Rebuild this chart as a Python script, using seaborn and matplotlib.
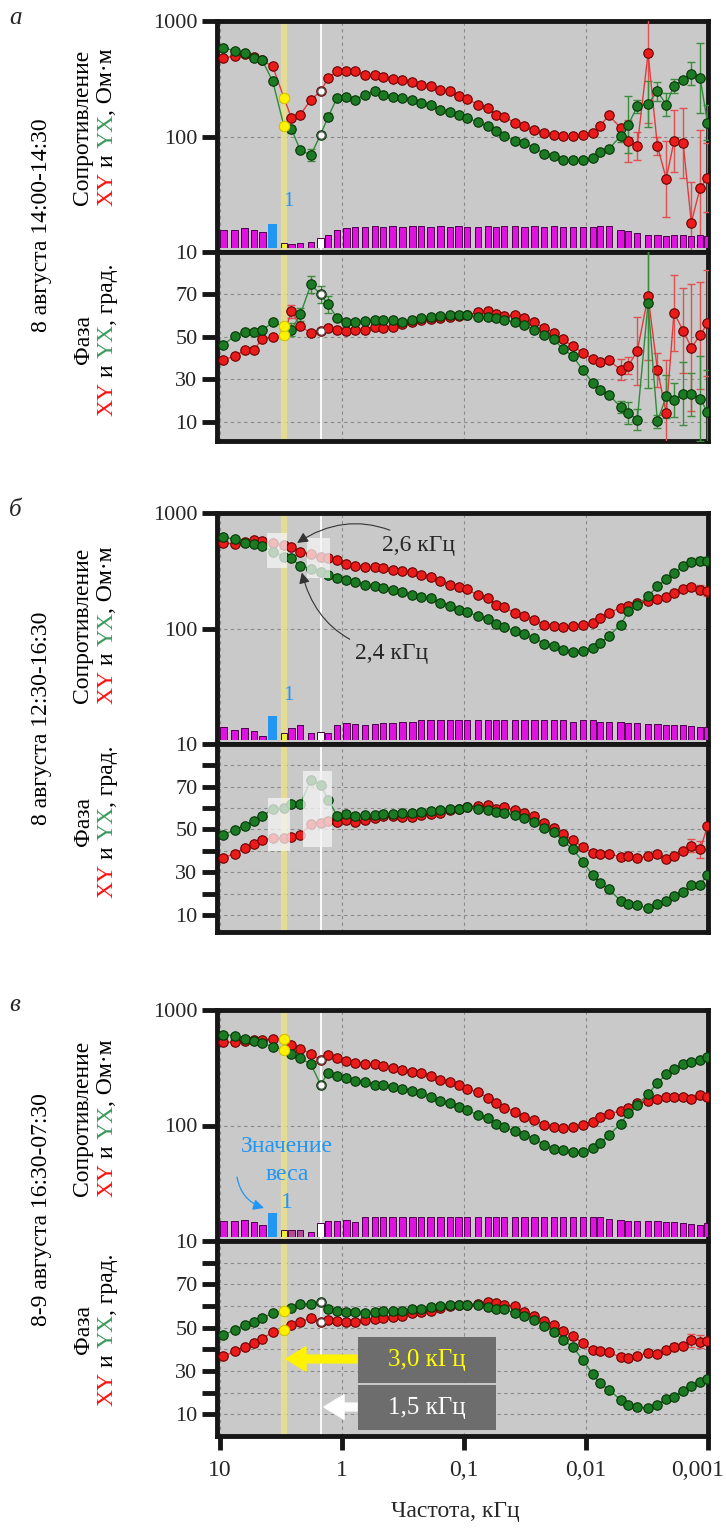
import numpy as np
import pandas as pd
import matplotlib
matplotlib.use("Agg")
import matplotlib.pyplot as plt
from matplotlib.patches import Rectangle
from matplotlib.ticker import FixedLocator, NullLocator
import seaborn as sns

# ---------------- data ----------------
FREQ = [9.4, 7.6, 6.3, 5.3, 4.5, 3.7, 3.0, 2.6, 2.2, 1.8, 1.5, 1.3, 1.1,
        0.92, 0.78, 0.65, 0.54, 0.46, 0.385, 0.32, 0.265, 0.225, 0.188, 0.156, 0.13,
        0.111, 0.094, 0.077, 0.064, 0.055, 0.047, 0.038, 0.032, 0.0265, 0.022, 0.0183,
        0.0155, 0.0128, 0.0106, 0.0088, 0.0077, 0.0065, 0.0052, 0.0045, 0.0038, 0.0031,
        0.0026, 0.0022, 0.0019, 0.0016, 0.00137, 0.00116, 0.00101]

XTICK_VALUES = [10, 1, 0.1, 0.01, 0.001]
XTICK_LABELS = ["10", "1", "0,1", "0,01", "0,001"]
RHO_TICKS = [10, 100, 1000]
RHO_TICK_LABELS = ["10", "100", "1000"]

# panel а
RHO_A_XY = [477, 499, 515, 485, 455, 404, 217, 145, 155, 208,
            246, 321, 366, 366, 366, 342, 342, 327, 316, 310,
            294, 281, 275, 254, 246, 222, 211, 189, 177, 155,
            148, 131, 123, 113, 108, 104, 101, 102, 104, 108,
            123, 152, 119, 91, 83, 525, 83, 43, 91, 88,
            18, 36, 44]
RHO_A_YX = [582, 555, 527, 477, 455, 300, 124, 116, 76, 69,
            104, 148, 216, 218, 208, 230, 246, 230, 220, 216,
            206, 195, 189, 171, 162, 152, 145, 133, 123, 111,
            102, 91, 87, 80, 71, 68, 63, 62, 62, 65,
            73, 78, 101, 127, 182, 192, 246, 189, 275, 310,
            349, 321, 132]
PHA_A_XY = [39.3, 40.9, 43.7, 43.9, 49.1, 50.0, 51.0, 62.1, 55.0, 51.9,
            53.0, 54.0, 53.5, 52.7, 53.5, 53.5, 54.8, 54.3, 54.8, 56.0,
            57.0, 58.0, 58.5, 59.0, 59.5, 59.8, 60.2, 61.7, 62.1, 60.6,
            60.0, 60.1, 59.0, 56.9, 54.3, 51.9, 48.8, 45.6, 42.5, 39.7,
            38.1, 39.0, 34.6, 36.5, 43.3, 69.2, 34.6, 14.2, 61.4, 53.0,
            45.0, 50.7, 56.6]
PHA_A_YX = [46.4, 50.3, 52.2, 52.2, 53.2, 56.9, 55.0, 53.5, 60.6, 74.7,
            70.0, 65.3, 59.0, 56.9, 56.9, 57.4, 57.9, 57.9, 57.9, 56.9,
            58.0, 59.0, 59.4, 59.8, 60.4, 60.4, 60.4, 59.5, 59.5, 59.0,
            58.0, 56.9, 55.4, 53.5, 51.1, 48.8, 44.4, 40.9, 34.3, 28.3,
            25.2, 22.8, 17.0, 14.2, 11.0, 66.0, 10.2, 22.0, 20.5, 23.3,
            23.0, 21.0, 14.5]
WEIGHT_A = [0.85, 0.85, 0.9, 0.85, 0.75, 1.1, 0.25, 0.2, 0.22, 0.28,
            0.45, 0.6, 0.85, 0.9, 0.95, 0.95, 1.0, 0.95, 1.0, 0.95,
            1.0, 1.0, 0.95, 1.0, 0.95, 1.0, 0.95, 0.95, 1.0, 0.95,
            1.0, 1.0, 0.95, 1.0, 0.95, 1.0, 0.95, 0.95, 0.95, 0.95,
            1.0, 1.0, 0.85, 0.8, 0.7, 0.6, 0.6, 0.55, 0.6, 0.6,
            0.55, 0.6, 0.55]
# error bars (index, half-width): rho in decades, phase in degrees
RHO_A_XY_ERR_IDX = [43, 44, 45, 46, 47, 48, 49, 50, 51, 52]
RHO_A_XY_ERR = [0.18, 0.12, 0.6, 0.08, 0.33, 0.27, 0.3, 0.35, 0.5, 0.3]
RHO_A_YX_ERR_IDX = [7, 9, 11, 42, 43, 44, 45, 46, 47, 48, 50, 51, 52]
RHO_A_YX_ERR = [0.03, 0.05, 0.03, 0.05, 0.25, 0.06, 0.2, 0.08, 0.1, 0.06, 0.1, 0.3, 0.15]
PHA_A_XY_ERR_IDX = [7, 42, 43, 44, 45, 46, 47, 48, 49, 50, 51, 52]
PHA_A_XY_ERR = [3, 5, 4, 16, 30, 8, 25, 18, 20, 30, 25, 25]
PHA_A_YX_ERR_IDX = [7, 8, 9, 10, 11, 42, 43, 44, 45, 46, 47, 48, 49, 50, 51, 52]
PHA_A_YX_ERR = [3, 3, 4, 4, 4, 3, 5, 5, 40, 3, 10, 8, 15, 10, 20, 20]

# panel б
RHO_B_XY = [548, 541, 566, 585, 577, 550, 530, 509, 463, 440,
            420, 405, 393, 363, 349, 340, 340, 334, 323, 312,
            306, 292, 279, 256, 239, 229, 218, 194, 184, 161,
            152, 137, 129, 118, 108, 106, 103.5, 104.5, 108, 112,
            124, 137, 151, 156, 167, 172, 180, 188, 203, 220,
            229, 217, 210]
RHO_B_YX = [617, 593, 555, 537, 520, 463, 420, 406, 349, 330,
            310, 290, 274, 261, 251, 239, 232, 224, 217, 206,
            196, 188, 184, 167, 156, 146, 139, 128, 121, 109,
            103, 95, 89, 83, 74, 70.5, 65, 62.5, 64, 68,
            75, 86, 108, 141, 161, 190, 232, 268, 302, 349,
            380, 385, 385]
PHA_B_XY = [36.8, 38.6, 41.5, 43.1, 45.1, 46.0, 46.0, 46.6, 47.5, 52.6,
            53.0, 54.0, 53.4, 54.2, 53.4, 54.6, 55.2, 56.1, 56.1, 55.7,
            55.7, 56.6, 57.4, 57.6, 58.9, 59.7, 60.5, 60.9, 61.3, 59.7,
            60.5, 58.9, 57.6, 56.1, 52.8, 50.7, 47.8, 45.0, 41.8, 39.2,
            38.4, 38.6, 37.2, 37.6, 36.5, 37.6, 38.4, 36.0, 37.6, 39.7,
            42.3, 40.7, 51.4]
PHA_B_YX = [47.5, 49.8, 51.8, 53.9, 56.1, 59.7, 60.0, 61.8, 62.1, 73.0,
            70.8, 64.0, 56.5, 57.0, 56.1, 56.6, 56.6, 57.0, 57.0, 57.6,
            57.6, 58.1, 58.6, 58.9, 59.7, 59.7, 60.5, 59.7, 59.2, 58.1,
            57.6, 56.8, 55.5, 53.4, 50.7, 48.6, 44.7, 40.7, 34.9, 28.5,
            24.9, 22.2, 16.5, 14.9, 14.6, 13.0, 14.9, 16.5, 19.0, 20.9,
            23.8, 24.1, 28.8]
WEIGHT_B = [0.6, 0.45, 0.55, 0.4, 0.2, 1.1, 0.3, 0.55, 0.7, 0.3,
            0.35, 0.3, 0.7, 0.8, 0.75, 0.7, 0.75, 0.8, 0.8, 0.85,
            0.85, 0.9, 0.9, 0.9, 0.92, 0.9, 0.92, 0.9, 0.92, 0.9,
            0.9, 0.92, 0.9, 0.92, 0.9, 0.9, 0.92, 0.85, 0.9, 0.9,
            0.85, 0.85, 0.85, 0.8, 0.8, 0.75, 0.75, 0.7, 0.7, 0.7,
            0.65, 0.6, 0.6]
RHO_B_XY_ERR_IDX = [51, 52]
RHO_B_XY_ERR = [0.04, 0.04]
RHO_B_YX_ERR_IDX = [50, 51, 52]
RHO_B_YX_ERR = [0.03, 0.03, 0.03]
PHA_B_XY_ERR_IDX = [50, 51]
PHA_B_XY_ERR = [3, 4]
PHA_B_YX_ERR_IDX = []
PHA_B_YX_ERR = []

# panel в
RHO_C_XY = [525, 528, 540, 548, 552, 560, 562, 500, 458, 420,
            367, 409, 383, 362, 351, 339, 342, 328, 316, 300,
            292, 286, 267, 250, 239, 223, 208, 195, 173, 156,
            143, 132, 119, 111, 102, 97, 95, 97, 102, 108,
            119, 127, 133, 143, 156, 163, 170, 178, 178, 178,
            170, 182, 178]
RHO_C_YX = [610, 601, 562, 543, 514, 481, 450, 415, 383, 339,
            226, 286, 267, 258, 245, 239, 226, 223, 214, 208,
            198, 191, 178, 163, 156, 146, 136, 123, 115, 104,
            97, 89, 82, 77, 68, 63, 61, 59, 59, 64,
            71, 82, 104, 128, 151, 187, 234, 277, 306, 339,
            357, 367, 388]
PHA_C_XY = [36.7, 39.1, 41.1, 43.0, 44.9, 48.1, 49.0, 51.2, 52.7, 54.3,
            52.4, 53.7, 53.2, 52.7, 52.7, 53.7, 54.0, 54.3, 54.8, 55.2,
            56.8, 57.1, 57.9, 59.0, 60.0, 60.6, 60.6, 61.0, 61.9, 61.5,
            60.3, 60.0, 57.1, 55.6, 53.2, 51.2, 48.5, 46.2, 42.7, 39.5,
            39.1, 38.6, 36.4, 35.9, 37.0, 38.3, 38.0, 39.9, 41.1, 41.7,
            44.3, 43.4, 43.8]
PHA_C_YX = [46.5, 49.0, 51.2, 52.4, 54.3, 56.8, 57.9, 59.0, 60.9, 60.9,
            61.9, 58.4, 57.9, 57.1, 57.1, 56.8, 57.1, 57.5, 57.5, 57.9,
            58.4, 58.8, 59.5, 60.0, 60.3, 60.6, 60.6, 60.3, 59.5, 58.8,
            58.4, 56.8, 55.6, 53.7, 50.9, 48.1, 44.3, 41.1, 34.9, 28.6,
            24.5, 21.3, 16.7, 14.4, 13.5, 12.9, 14.4, 17.1, 18.2, 21.0,
            22.9, 25.0, 26.1]
WEIGHT_C = [0.75, 0.75, 0.8, 0.7, 0.55, 1.1, 0.3, 0.3, 0.3, 0.25,
            0.65, 0.75, 0.75, 0.8, 0.7, 0.9, 0.9, 0.9, 0.9, 0.92,
            0.92, 0.92, 0.92, 0.92, 0.92, 0.92, 0.92, 0.92, 0.92, 0.92,
            0.92, 0.92, 0.92, 0.92, 0.92, 0.92, 0.92, 0.92, 0.92, 0.92,
            0.92, 0.85, 0.8, 0.75, 0.75, 0.75, 0.75, 0.7, 0.7, 0.65,
            0.6, 0.55, 0.65]
RHO_C_XY_ERR_IDX = [50, 51, 52]
RHO_C_XY_ERR = [0.03, 0.03, 0.03]
RHO_C_YX_ERR_IDX = []
RHO_C_YX_ERR = []
PHA_C_XY_ERR_IDX = [48, 50, 51]
PHA_C_XY_ERR = [2, 3, 3]
PHA_C_YX_ERR_IDX = []
PHA_C_YX_ERR = []

YELLOW_IDX = 6     # 3,0 kHz
WHITE_IDX = 10     # 1,5 kHz
WEIGHT_MARK_IDX = 5
FADED_B_IDX = [5, 6, 9, 10, 11]
MAUVE_C_IDX = [7, 8]

for arr in [RHO_A_XY, RHO_A_YX, PHA_A_XY, PHA_A_YX, WEIGHT_A, RHO_B_XY, RHO_B_YX,
            PHA_B_XY, PHA_B_YX, WEIGHT_B, RHO_C_XY, RHO_C_YX, PHA_C_XY, PHA_C_YX, WEIGHT_C]:
    assert len(arr) == len(FREQ), len(arr)

# ---------------- style ----------------
sns.set_theme(style="white")
plt.rcParams["font.family"] = ["Liberation Serif", "DejaVu Serif"]
plt.rcParams["axes.unicode_minus"] = False

W, H = 726, 1530
fig = plt.figure(figsize=(W / 100, H / 100), dpi=100)
R = fig.canvas.get_renderer()

X_L, X_R = 217, 708
XLIM = (10.6, 0.001)
BG = "#C9C9C9"
RED, RED_E, RED_L = "#EA1B1B", "#6A0000", "#E23A3A"
GRN, GRN_E, GRN_L = "#1B7A23", "#053505", "#2E8B3A"
RED_T = "#FF1010"
GRN_T = "#3A9A5E"
BLUE = "#2196F3"
FRAME = "#161616"
MAGENTA = "#E012E0"
FS = 17


def fx(x):
    return x / W


def fy(y):
    return 1 - y / H


def add_ax(top, bottom):
    return fig.add_axes([fx(X_L), fy(bottom), (X_R - X_L) / W, (bottom - top) / H])


def style_ax(ax):
    ax.set_facecolor(BG)
    ax.set_xscale("log")
    ax.set_xlim(*XLIM)
    for s in ax.spines.values():
        s.set_visible(True)
        s.set_linewidth(3.5)
        s.set_color(FRAME)
    ax.xaxis.set_major_locator(FixedLocator(XTICK_VALUES))
    ax.xaxis.set_minor_locator(NullLocator())
    ax.tick_params(axis="x", bottom=False, labelbottom=False, length=0)
    ax.tick_params(axis="y", left=True, direction="out", length=11, width=3.5,
                   color=FRAME, labelsize=16, pad=3)
    ax.grid(True, color="#8A8A8A", ls=(0, (3, 3)), lw=0.8)
    ax.set_axisbelow(True)
    ax.set_xlabel("")
    ax.set_ylabel("")


def draw_errors(ax, vals, idx, err, color, log):
    if not idx:
        return
    f = np.array(FREQ)[idx]
    v = np.array(vals, dtype=float)[idx]
    e = np.array(err, dtype=float)
    if log:
        lo, hi = v - v / 10 ** e, v * 10 ** e - v
    else:
        lo, hi = e, e
    ax.errorbar(f, v, yerr=[lo, hi], fmt="none", ecolor=color, elinewidth=1.0,
                capsize=3, capthick=1.0, zorder=3)


def draw_series(ax, vals, face, edge, line, z):
    df = pd.DataFrame({"freq": FREQ, "val": vals})
    sns.lineplot(data=df, x="freq", y="val", ax=ax, color=line, lw=1.0,
                 marker="o", markersize=6.8, markerfacecolor=face,
                 markeredgecolor=edge, markeredgewidth=0.8,
                 sort=False, estimator=None, legend=False, zorder=z)


def highlight(ax, vals_list, idx, face, edge, size):
    for vals in vals_list:
        sns.scatterplot(x=[FREQ[idx]], y=[vals[idx]], ax=ax, color=face,
                        edgecolor=edge, linewidth=0.8, s=size, zorder=7, legend=False)


def draw_bars(ax, weights, extra_colors):
    bx = ax.inset_axes([0, 4 / 231, 1, 25 / 231])
    bx.set_xscale("log")
    bx.set_xlim(*XLIM)
    bx.set_ylim(0, 1.15)
    bx.axis("off")
    f = np.array(FREQ)
    w = np.array(weights)
    hw = 0.026
    left = f * 10 ** (-hw)
    width = f * 10 ** hw - left
    colors = [extra_colors.get(i, MAGENTA) for i in range(len(f))]
    bx.bar(left, w, width=width, align="edge", color=colors, edgecolor="#4A004A", lw=0.7)
    # weight marker (blue)
    i = WEIGHT_MARK_IDX
    hb = 0.036
    bx.bar([f[i] * 10 ** (-hb)], [w[i]], width=[f[i] * 10 ** hb - f[i] * 10 ** (-hb)],
           align="edge", color=BLUE, lw=0)
    return bx


def text_w(s, size):
    t = fig.text(0, 0, s, fontsize=size)
    w = t.get_window_extent(renderer=R).width
    t.remove()
    return w


def prefix_w(s, size):
    if s == "":
        return 0.0
    return text_w(s + "I", size) - text_w("I", size)


def vtext(xc, yc, parts, size=FS):
    full = "".join(p for p, _ in parts)
    total = prefix_w(full, size)
    start = (H - yc) - total / 2
    acc = ""
    for s, c in parts:
        if c is not None:
            off = prefix_w(acc, size)
            fig.text(fx(xc), (start + off) / H, s, rotation=90, color=c,
                     fontsize=size, ha="center", va="bottom")
        acc += s


PANELS = [
    dict(letter="а", title="8 августа 14:00-14:30", rt=21, rb=252, pb=441,
         plim=(1, 90), pticks=[10, 30, 50, 70], plabels=["10", "30", "50", "70"],
         rxy=RHO_A_XY, ryx=RHO_A_YX, pxy=PHA_A_XY, pyx=PHA_A_YX, w=WEIGHT_A,
         rxy_e=(RHO_A_XY_ERR_IDX, RHO_A_XY_ERR), ryx_e=(RHO_A_YX_ERR_IDX, RHO_A_YX_ERR),
         pxy_e=(PHA_A_XY_ERR_IDX, PHA_A_XY_ERR), pyx_e=(PHA_A_YX_ERR_IDX, PHA_A_YX_ERR),
         highlight=True, title_y=225, rlab_y=127, plab_y=340, letter_y=18),
    dict(letter="б", title="8 августа 12:30-16:30", rt=513, rb=744, pb=932,
         plim=(2, 90), pticks=list(range(10, 90, 10)),
         plabels=["10", "", "30", "", "50", "", "70", ""],
         rxy=RHO_B_XY, ryx=RHO_B_YX, pxy=PHA_B_XY, pyx=PHA_B_YX, w=WEIGHT_B,
         rxy_e=(RHO_B_XY_ERR_IDX, RHO_B_XY_ERR), ryx_e=(RHO_B_YX_ERR_IDX, RHO_B_YX_ERR),
         pxy_e=(PHA_B_XY_ERR_IDX, PHA_B_XY_ERR), pyx_e=(PHA_B_YX_ERR_IDX, PHA_B_YX_ERR),
         highlight=False, title_y=718, rlab_y=625, plab_y=822, letter_y=510),
    dict(letter="в", title="8-9 августа 16:30-07:30", rt=1010, rb=1241, pb=1436,
         plim=(0, 90), pticks=list(range(10, 90, 10)),
         plabels=["10", "", "30", "", "50", "", "70", ""],
         rxy=RHO_C_XY, ryx=RHO_C_YX, pxy=PHA_C_XY, pyx=PHA_C_YX, w=WEIGHT_C,
         rxy_e=(RHO_C_XY_ERR_IDX, RHO_C_XY_ERR), ryx_e=(RHO_C_YX_ERR_IDX, RHO_C_YX_ERR),
         pxy_e=(PHA_C_XY_ERR_IDX, PHA_C_XY_ERR), pyx_e=(PHA_C_YX_ERR_IDX, PHA_C_YX_ERR),
         highlight=True, title_y=1210, rlab_y=1118, plab_y=1330, letter_y=1005),
]

axes = []
for k, p in enumerate(PANELS):
    ax_r = add_ax(p["rt"], p["rb"])
    ax_p = add_ax(p["rb"], p["pb"])

    # resistivity
    draw_errors(ax_r, p["rxy"], *p["rxy_e"], color="#E25050", log=True)
    draw_errors(ax_r, p["ryx"], *p["ryx_e"], color="#3C8C3C", log=True)
    draw_series(ax_r, p["rxy"], RED, RED_E, RED_L, 4)
    draw_series(ax_r, p["ryx"], GRN, GRN_E, GRN_L, 5)
    # phase
    draw_errors(ax_p, p["pxy"], *p["pxy_e"], color="#E25050", log=False)
    draw_errors(ax_p, p["pyx"], *p["pyx_e"], color="#3C8C3C", log=False)
    draw_series(ax_p, p["pxy"], RED, RED_E, RED_L, 4)
    draw_series(ax_p, p["pyx"], GRN, GRN_E, GRN_L, 5)

    for ax in (ax_r, ax_p):
        style_ax(ax)
        ax.axvline(FREQ[YELLOW_IDX], color="#EAE08A", lw=4.5, alpha=0.85, zorder=1.2)
        ax.axvline(FREQ[WHITE_IDX], color="white", lw=1.3, zorder=1.3)

    ax_r.set_yscale("log")
    ax_r.set_ylim(10, 1000)
    ax_r.yaxis.set_major_locator(FixedLocator(RHO_TICKS))
    ax_r.yaxis.set_minor_locator(NullLocator())
    ax_r.set_yticklabels(RHO_TICK_LABELS)
    ax_p.set_ylim(*p["plim"])
    ax_p.yaxis.set_major_locator(FixedLocator(p["pticks"]))
    ax_p.set_yticklabels(p["plabels"])

    if p["highlight"]:
        highlight(ax_r, [p["rxy"], p["ryx"]], YELLOW_IDX, "#FFF200", "#D8C800", 55)
        highlight(ax_p, [p["pxy"], p["pyx"]], YELLOW_IDX, "#FFF200", "#D8C800", 55)
        highlight(ax_r, [p["rxy"], p["ryx"]], WHITE_IDX, "white", "#555555", 28)
        highlight(ax_p, [p["pxy"], p["pyx"]], WHITE_IDX, "white", "#555555", 28)

    extra = {YELLOW_IDX: "#F2EE30", WHITE_IDX: "white"}
    if k == 2:
        for i in MAUVE_C_IDX:
            extra[i] = "#B24A9A"
    draw_bars(ax_r, p["w"], extra)

    # labels
    fig.text(fx(15), fy(p["letter_y"]), p["letter"], fontsize=18, style="italic",
             ha="center", va="center")
    vtext(42, p["title_y"], [(p["title"], "black")])
    vtext(83, p["rlab_y"], [("Сопротивление", "black")])
    vtext(107, p["rlab_y"], [("XY", RED_T), (" ", None), ("и", "black"), (" ", None),
                             ("YX", GRN_T), (", Ом·м", "black")])
    vtext(83, p["plab_y"], [("Фаза", "black")])
    vtext(107, p["plab_y"], [("XY", RED_T), (" ", None), ("и", "black"), (" ", None),
                             ("YX", GRN_T), (", град.", "black")])
    axes.append((ax_r, ax_p))

# ---- panel б: faded (rejected) points and annotations ----
ax_r, ax_p = axes[1]
for (f0, f1, v0, v1) in [(4.14, 2.84, 336, 673), (1.95, 1.25, 275, 608)]:
    ax_r.add_patch(Rectangle((f1, v0), f0 - f1, v1 - v0, facecolor="#F4F4F4",
                             alpha=0.75, lw=0, zorder=8))
for (f0, f1, v0, v1) in [(4.06, 2.68, 39.9, 64.6), (2.09, 1.21, 41.7, 77.2)]:
    ax_p.add_patch(Rectangle((f1, v0), f0 - f1, v1 - v0, facecolor="#F4F4F4",
                             alpha=0.75, lw=0, zorder=8))
ax_r.annotate("2,6 кГц", xy=(FREQ[7], RHO_B_XY[7]), xytext=(418, H - 545),
              textcoords="figure pixels", ha="center", va="center", fontsize=FS,
              zorder=10,
              arrowprops=dict(arrowstyle="-|>", color="#333333", lw=0.8,
                              mutation_scale=16, shrinkA=2, shrinkB=5,
                              connectionstyle="arc3,rad=0.35"))
ax_r.annotate("2,4 кГц", xy=(FREQ[8], RHO_B_YX[8]), xytext=(392, H - 653),
              textcoords="figure pixels", ha="center", va="center", fontsize=FS,
              zorder=10,
              arrowprops=dict(arrowstyle="-|>", color="#333333", lw=0.8,
                              mutation_scale=16, shrinkA=2, shrinkB=5,
                              connectionstyle="arc3,rad=-0.35"))

# weight labels
fig.text(fx(288), fy(202), "1", color=BLUE, fontsize=15, ha="center", va="center")
fig.text(fx(288), fy(696), "1", color=BLUE, fontsize=15, ha="center", va="center")
fig.text(fx(287), fy(1146), "Значение", color=BLUE, fontsize=FS, ha="center", va="center")
fig.text(fx(287), fy(1175), "веса", color=BLUE, fontsize=FS, ha="center", va="center")
fig.text(fx(287), fy(1202), "1", color=BLUE, fontsize=FS, ha="center", va="center")
ax_rc, ax_pc = axes[2]
ax_rc.annotate("", xy=(264, H - 1208), xytext=(237, H - 1177),
               xycoords="figure pixels", textcoords="figure pixels",
               arrowprops=dict(arrowstyle="-|>", color=BLUE, lw=0.9, mutation_scale=16,
                               shrinkA=0, shrinkB=0, connectionstyle="arc3,rad=0.3"),
               annotation_clip=False)

# bottom axis ticks (last label shifted inward so it is not cut at the edge)
ax_pc.tick_params(axis="x", bottom=True, labelbottom=True, direction="out", length=10,
                  width=3.5, color=FRAME, labelsize=FS, pad=7)
ax_pc.set_xticklabels(XTICK_LABELS[:-1] + [""])
last_lbl = ax_pc.text(XTICK_VALUES[-1], 0, XTICK_LABELS[-1], fontsize=FS,
                      ha="right", va="top", transform=ax_pc.get_xaxis_transform(),
                      clip_on=False)
import matplotlib.transforms as mtransforms
last_lbl.set_transform(ax_pc.get_xaxis_transform()
                       + mtransforms.ScaledTranslation(16 / 100, -24 / 100, fig.dpi_scale_trans))
fig.text(fx(455), fy(1511), "Частота, кГц", fontsize=FS, ha="center", va="center")

# frequency callout box
fig.add_artist(Rectangle((fx(358), fy(1383)), 138 / W, 46 / H, transform=fig.transFigure,
                         facecolor="#6D6D6D", lw=0, zorder=20))
fig.add_artist(Rectangle((fx(358), fy(1430)), 138 / W, 45 / H, transform=fig.transFigure,
                         facecolor="#6D6D6D", lw=0, zorder=20))
fig.text(fx(427), fy(1360), "3,0 кГц", color="#FFFF00", fontsize=18, ha="center",
         va="center", zorder=21)
fig.text(fx(427), fy(1408), "1,5 кГц", color="white", fontsize=18, ha="center",
         va="center", zorder=21)
ax_pc.annotate("", xy=(286, H - 1359), xytext=(357, H - 1359),
               xycoords="figure pixels", textcoords="figure pixels",
               arrowprops=dict(arrowstyle="simple,head_length=0.9,head_width=1.1,tail_width=0.35",
                               color="#FFF200", mutation_scale=16, shrinkA=0, shrinkB=0),
               annotation_clip=False)
ax_pc.annotate("", xy=(324, H - 1407), xytext=(357, H - 1407),
               xycoords="figure pixels", textcoords="figure pixels",
               arrowprops=dict(arrowstyle="simple,head_length=0.9,head_width=1.1,tail_width=0.35",
                               color="white", mutation_scale=16, shrinkA=0, shrinkB=0),
               annotation_clip=False)

fig.savefig("out.png", dpi=100)
